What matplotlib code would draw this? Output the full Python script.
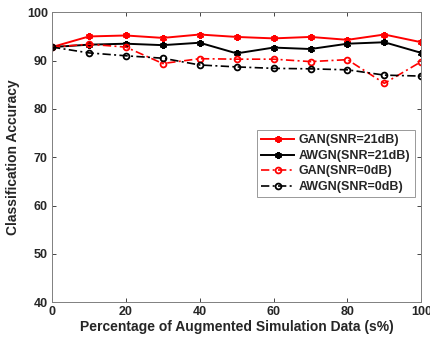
import matplotlib
matplotlib.use("Agg")
import matplotlib.pyplot as plt

x = [0, 10, 20, 30, 40, 50, 60, 70, 80, 90, 100]
gan_21 = [92.8, 95.0, 95.2, 94.7, 95.4, 94.9, 94.6, 94.9, 94.3, 95.4, 93.8]
awgn_21 = [92.8, 93.3, 93.5, 93.2, 93.7, 91.5, 92.7, 92.4, 93.5, 93.8, 91.6]
gan_0 = [92.8, 93.4, 92.8, 89.4, 90.4, 90.3, 90.3, 89.8, 90.2, 85.3, 89.8]
awgn_0 = [92.8, 91.6, 91.0, 90.5, 89.1, 88.7, 88.4, 88.3, 88.1, 87.0, 86.8]
labels = ["GAN(SNR=21dB)", "AWGN(SNR=21dB)", "GAN(SNR=0dB)", "AWGN(SNR=0dB)"]
xticks = [0, 20, 40, 60, 80, 100]
yticks = [40, 50, 60, 70, 80, 90, 100]

plt.rcParams['font.family'] = ['Liberation Sans', 'DejaVu Sans']
plt.rcParams['font.weight'] = 'bold'

fig = plt.figure(figsize=(4.31, 3.48), dpi=100)
ax = fig.add_axes([0.1206, 0.1313, 0.8569, 0.8334])

dd = (5, 2, 1.2, 2)
star = (6, 2, 0)
ax.plot(x, gan_21, color='#ff0000', lw=1.4, marker=star, ms=5, mew=1.5,
        label=labels[0])
ax.plot(x, awgn_21, color='black', lw=1.4, marker=star, ms=5, mew=1.5,
        label=labels[1])
ax.plot(x, gan_0, color='#ff0000', lw=1.2, ls=(0, dd), marker='o', ms=4.2,
        mfc='none', mew=1.3, label=labels[2])
ax.plot(x, awgn_0, color='black', lw=1.2, ls=(0, dd), marker='o', ms=4.2,
        mfc='none', mew=1.3, label=labels[3])

ax.set_xlim(0, 100)
ax.set_ylim(40, 100)
ax.set_xticks(xticks)
ax.set_yticks(yticks)
ax.tick_params(direction='in', length=3, labelsize=9, colors='#262626',
               top=True, right=True, width=0.6, pad=3)
for lab in ax.get_xticklabels() + ax.get_yticklabels():
    lab.set_fontweight('bold')
for s in ax.spines.values():
    s.set_color('#808080')
    s.set_linewidth(0.7)

ax.set_xlabel('Percentage of Augmented Simulation Data (s%)', fontsize=10,
              fontweight='bold', color='#262626', labelpad=1)
ax.set_ylabel('Classification Accuracy', fontsize=10, fontweight='bold',
              color='#262626', labelpad=5)

leg = ax.legend(loc='upper left', bbox_to_anchor=(0.55, 0.594), fontsize=9,
                frameon=True, fancybox=False, edgecolor='#808080',
                handlelength=2.6, handletextpad=0.4, borderpad=0.35,
                labelspacing=0.28, borderaxespad=0)
leg.get_frame().set_linewidth(0.7)
for t in leg.get_texts():
    t.set_fontweight('bold')
    t.set_color('#262626')

fig.canvas.draw()
axbb = ax.get_window_extent()
leg.set_bbox_to_anchor(((257 - axbb.x0) / axbb.width, 0.594), transform=ax.transAxes)

fig.savefig('out.png', dpi=100)
